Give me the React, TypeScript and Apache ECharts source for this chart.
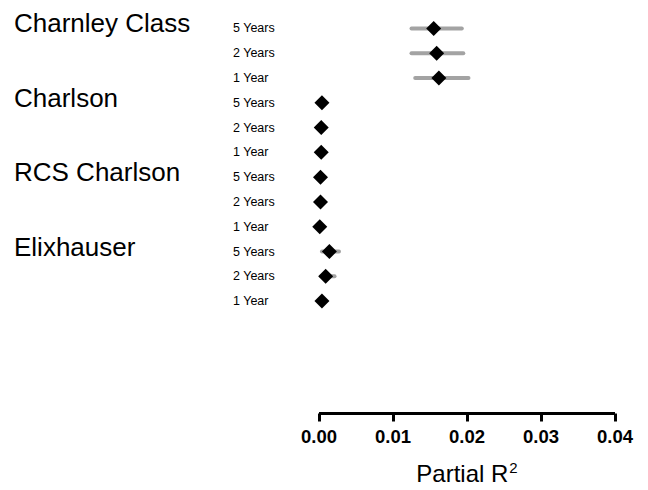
import React, { useEffect, useRef } from "react";
import * as echarts from "echarts";

const groups = ["Charnley Class", "Charlson", "RCS Charlson", "Elixhauser"];
const periods = ["5 Years", "2 Years", "1 Year"];

const charnleyEst = [0.0155, 0.0159, 0.0162];
const charnleyLo = [0.0125, 0.0125, 0.013];
const charnleyHi = [0.0193, 0.0195, 0.0202];

const charlsonEst = [0.0004, 0.0003, 0.0003];
const charlsonLo = [0.0002, 0.0001, 0.0001];
const charlsonHi = [0.0006, 0.0005, 0.0005];

const rcsEst = [0.0002, 0.0002, 0.0001];
const rcsLo = [0.0001, 0.0001, 0.0];
const rcsHi = [0.0004, 0.0003, 0.0003];

const elixEst = [0.0014, 0.0009, 0.0004];
const elixLo = [0.0004, 0.0003, 0.0002];
const elixHi = [0.0027, 0.0021, 0.0007];

const xTicks = [0, 0.01, 0.02, 0.03, 0.04];

const FONT = "'Liberation Sans', Arial, Helvetica, sans-serif";

export default function App() {
  const ref = useRef<HTMLDivElement>(null);
  useEffect(() => {
    if (!ref.current) return;
    const chart = echarts.init(ref.current, undefined, { renderer: "svg" });

    const est = [charnleyEst, charlsonEst, rcsEst, elixEst];
    const lo = [charnleyLo, charlsonLo, rcsLo, elixLo];
    const hi = [charnleyHi, charlsonHi, rcsHi, elixHi];

    const cats: string[] = [];
    const points: number[][] = [];
    const cis: number[][] = [];
    groups.forEach((g, gi) => {
      periods.forEach((p, pi) => {
        const idx = cats.length;
        cats.push(g + "|" + p);
        points.push([est[gi][pi], idx]);
        cis.push([lo[gi][pi], hi[gi][pi], idx]);
      });
    });

    chart.setOption({
      animation: false,
      grid: { left: 319, right: 33, top: 16, bottom: 171, containLabel: false },
      xAxis: {
        type: "value",
        min: xTicks[0],
        max: xTicks[xTicks.length - 1],
        interval: 0.01,
        offset: 100,
        splitLine: { show: false },
        axisLine: { show: true, lineStyle: { color: "#000", width: 3, cap: "butt" } },
        axisTick: { show: true, length: 8, lineStyle: { color: "#000", width: 3 } },
        axisLabel: {
          margin: 13,
          fontFamily: FONT,
          fontWeight: "bold",
          fontSize: 18.5,
          color: "#000",
          formatter: (v: number) => v.toFixed(2),
        },
        name: "{a|Partial R}{b|2}",
        nameLocation: "middle",
        nameGap: 46,
        nameTextStyle: {
          rich: {
            a: { fontFamily: FONT, fontSize: 24, color: "#000" },
            b: { fontFamily: FONT, fontSize: 15, color: "#000", padding: [0, 0, 12, 1] },
          },
        },
      },
      yAxis: {
        type: "category",
        data: cats,
        inverse: true,
        axisLine: { show: false },
        axisTick: { show: false },
        splitLine: { show: false },
        axisLabel: {
          align: "left",
          margin: 86,
          fontFamily: FONT,
          fontSize: 12.5,
          color: "#000",
          formatter: (v: string) => v.split("|")[1],
        },
      },
      series: [
        {
          type: "custom",
          data: cis,
          encode: { x: [0, 1], y: 2 },
          renderItem: (params: any, api: any) => {
            const a = api.coord([api.value(0), api.value(2)]);
            const b = api.coord([api.value(1), api.value(2)]);
            return {
              type: "line",
              shape: { x1: a[0], y1: a[1], x2: b[0], y2: b[1] },
              style: { stroke: "#a3a3a3", lineWidth: 4, lineCap: "round" },
            };
          },
          z: 1,
        },
        {
          type: "scatter",
          data: points,
          symbol: "diamond",
          symbolSize: [15, 15],
          itemStyle: { color: "#000", opacity: 1 },
          z: 2,
        },
      ],
    });

    const graphics = groups.map((g, gi) => {
      const y = chart.convertToPixel({ yAxisIndex: 0 }, gi * periods.length) as number;
      return {
        type: "text",
        x: 14,
        y: y - 5,
        style: {
          text: g,
          fontFamily: FONT,
          fontSize: 26,
          fill: "#000",
          textVerticalAlign: "middle",
          verticalAlign: "middle",
        },
      };
    });
    chart.setOption({ graphic: graphics });

    return () => chart.dispose();
  }, []);
  return (
    <div
      ref={ref}
      style={{ position: "fixed", left: 0, top: 0, width: 648, height: 490, background: "#fff" }}
    />
  );
}
